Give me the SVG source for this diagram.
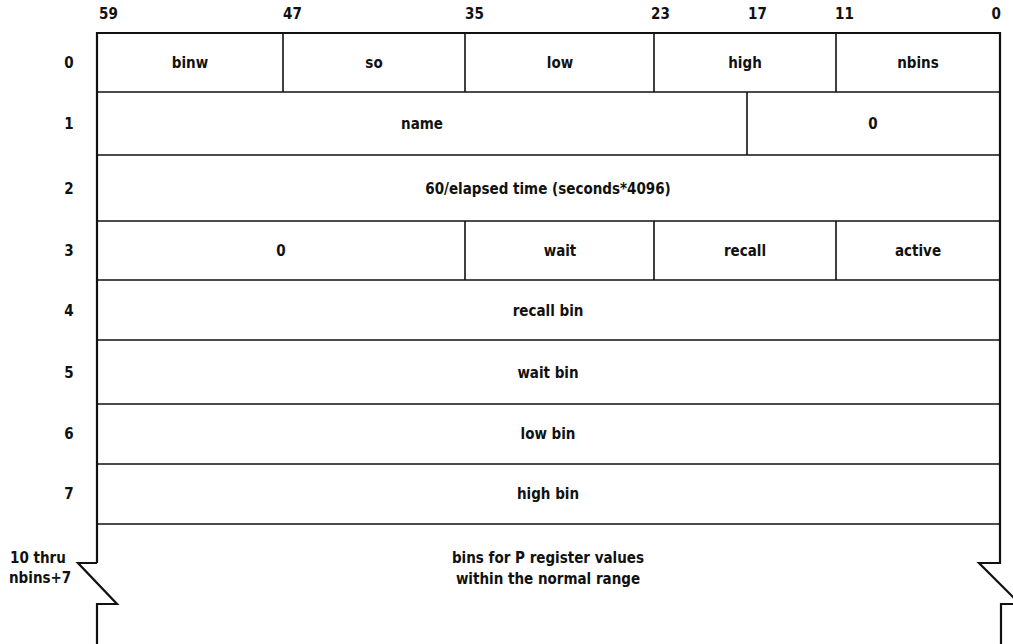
<svg xmlns="http://www.w3.org/2000/svg" width="1013" height="644" viewBox="0 0 1013 644">
<style>
text{font-family:"DejaVu Sans","Liberation Sans",sans-serif;font-stretch:condensed;font-weight:bold;font-size:15px;fill:#111}
.c{text-anchor:middle}
.r{text-anchor:end}
.ln{stroke:#111;stroke-width:2.2;fill:none;stroke-linejoin:miter}
.th{stroke:#111;stroke-width:1.6;fill:none}
</style>
<rect width="1013" height="644" fill="#fff"/>
<g id="bits">
<text x="99" y="19">59</text>
<text x="283" y="19">47</text>
<text x="465" y="19">35</text>
<text x="651" y="19">23</text>
<text x="748" y="19">17</text>
<text x="835" y="19">11</text>
<text class="r" x="1001" y="19">0</text>
</g>
<g id="rowlabels">
<text class="c" x="69" y="68">0</text>
<text class="c" x="69" y="129">1</text>
<text class="c" x="69" y="194">2</text>
<text class="c" x="69" y="256">3</text>
<text class="c" x="69" y="316">4</text>
<text class="c" x="69" y="378">5</text>
<text class="c" x="69" y="439">6</text>
<text class="c" x="69" y="499">7</text>
<text x="10" y="563">10 thru</text>
<text x="9" y="583">nbins+7</text>
</g>
<g id="frame">
<path class="ln" d="M97,563 V33 H1000 V563 H979 L1020,604 H1001 V644"/>
<path class="ln" d="M97,563 H78 L117,604 H97 V644"/>
</g>
<g id="row0">
<line class="th" x1="97" y1="92" x2="1000" y2="92"/>
<line class="th" x1="283" y1="33" x2="283" y2="92"/>
<line class="th" x1="465" y1="33" x2="465" y2="92"/>
<line class="th" x1="654" y1="33" x2="654" y2="92"/>
<line class="th" x1="836" y1="33" x2="836" y2="92"/>
<text class="c" x="190" y="68">binw</text>
<text class="c" x="374" y="68">so</text>
<text class="c" x="560" y="68">low</text>
<text class="c" x="745" y="68">high</text>
<text class="c" x="918" y="68">nbins</text>
</g>
<g id="row1">
<line class="th" x1="97" y1="155" x2="1000" y2="155"/>
<line class="th" x1="747" y1="92" x2="747" y2="155"/>
<text class="c" x="422" y="129">name</text>
<text class="c" x="873" y="129">0</text>
</g>
<g id="row2">
<line class="th" x1="97" y1="221" x2="1000" y2="221"/>
<text class="c" x="548" y="194">60/elapsed time (seconds*4096)</text>
</g>
<g id="row3">
<line class="th" x1="97" y1="280" x2="1000" y2="280"/>
<line class="th" x1="465" y1="221" x2="465" y2="280"/>
<line class="th" x1="654" y1="221" x2="654" y2="280"/>
<line class="th" x1="836" y1="221" x2="836" y2="280"/>
<text class="c" x="281" y="256">0</text>
<text class="c" x="560" y="256">wait</text>
<text class="c" x="745" y="256">recall</text>
<text class="c" x="918" y="256">active</text>
</g>
<g id="row4">
<line class="th" x1="97" y1="340" x2="1000" y2="340"/>
<text class="c" x="548" y="316">recall bin</text>
</g>
<g id="row5">
<line class="th" x1="97" y1="404" x2="1000" y2="404"/>
<text class="c" x="548" y="378">wait bin</text>
</g>
<g id="row6">
<line class="th" x1="97" y1="464" x2="1000" y2="464"/>
<text class="c" x="548" y="439">low bin</text>
</g>
<g id="row7">
<line class="th" x1="97" y1="524" x2="1000" y2="524"/>
<text class="c" x="548" y="499">high bin</text>
</g>
<g id="row8">
<text class="c" x="548" y="563">bins for P register values</text>
<text class="c" x="548" y="584">within the normal range</text>
</g>
</svg>
